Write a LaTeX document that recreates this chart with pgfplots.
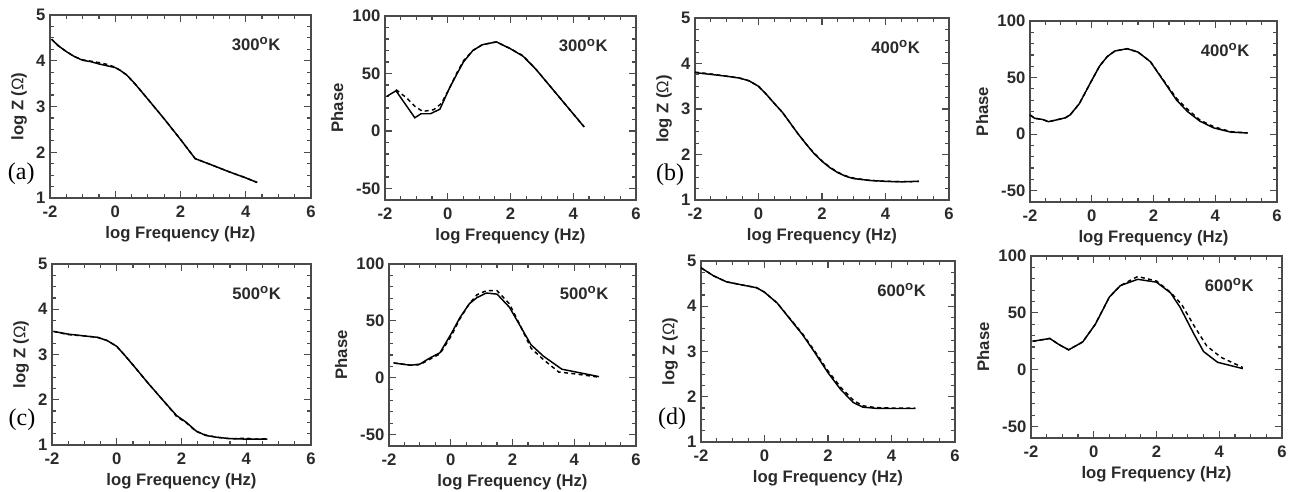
\documentclass[border=0pt]{standalone}
\usepackage{pgfplots}
\pgfplotsset{compat=1.18}
\usepackage{fontspec}
\setmainfont{Liberation Sans}
\newfontfamily\seriffont{Liberation Serif}
\definecolor{axgray}{HTML}{4A4A4A}
\definecolor{txt}{HTML}{2A2A2A}
\pgfplotsset{
  panel/.style={
    scale only axis, anchor=south west, clip=false,
    xmin=-2, xmax=6, xtick={-2,0,2,4,6}, minor x tick num=3,
    axis line style={line width=1.1pt, draw=axgray},
    every tick/.style={line width=0.9pt, axgray},
    major tick length=5.5pt, minor tick length=3pt, tick align=inside,
    xlabel={log Frequency (Hz)},
    label style={font=\bfseries\fontsize{12.5}{14}\selectfont, text=txt},
    tick label style={font=\bfseries\fontsize{12.5}{14}\selectfont, text=txt},
    xticklabel style={yshift=-2.5pt},
    xlabel style={yshift=0.5pt},
    /pgf/number format/assume math mode=true,
  },
  zpanel/.style={panel, ymin=1, ymax=5, ytick={1,2,3,4,5}, minor y tick num=3,
    ylabel={log Z (\textmd{Ω})}},
  ppanel/.style={panel, ymin=-60, ymax=100, ytick={-50,0,50,100}, minor y tick num=4,
    ylabel={Phase}},
  sol/.style={line width=1.1pt, black, solid, no markers},
  dsh/.style={line width=1.1pt, black, no markers, dash pattern=on 3pt off 2.5pt},
}
\newcommand{\temp}[1]{\node[font=\bfseries\fontsize{12.5}{14}\selectfont, text=txt] at (rel axis cs:0.79,0.84) {#1\textsuperscript{\fontsize{10}{10}\selectfont o}K};}
\newcommand{\lett}[2]{\node[font=\seriffont\fontsize{18}{18}\selectfont, text=black] at (rel axis cs:#1) {#2};}
\begin{document}
\begin{tikzpicture}
\useasboundingbox (0,0) rectangle (969.75pt,369pt);
% (a) 300K log Z
\begin{axis}[zpanel, at={(37.5pt,220.5pt)}, width=195.75pt, height=137.25pt]
\addplot[sol] coordinates {(-1.95,4.47)(-1.75,4.33)(-1.5,4.2)(-1.25,4.09)(-1.0,4.01)(-0.75,3.98)(-0.5,3.93)(-0.25,3.89)(0,3.85)(0.15,3.79)(0.35,3.69)(0.6,3.5)(1.0,3.16)(1.5,2.73)(2.0,2.28)(2.45,1.86)(3.0,1.71)(3.5,1.57)(4.0,1.44)(4.35,1.34)};
\addplot[dsh] coordinates {(-1.95,4.47)(-1.75,4.33)(-1.5,4.2)(-1.25,4.09)(-1.0,4.02)(-0.75,3.99)(-0.5,3.96)(-0.25,3.92)(0,3.86)(0.15,3.79)(0.35,3.69)(0.6,3.5)(1.0,3.16)(1.5,2.73)(2.0,2.28)(2.45,1.86)(3.0,1.71)(3.5,1.57)(4.0,1.44)(4.35,1.34)};
\temp{300}
\lett{-0.11,0.13}{(a)}
\end{axis}
% 300K phase
\begin{axis}[ppanel, at={(288.75pt,219pt)}, width=188.25pt, height=138pt]
\addplot[sol] coordinates {(-1.95,30)(-1.65,35)(-1.05,11.5)(-0.85,15)(-0.55,15)(-0.25,19)(0.05,37)(0.3,50)(0.5,60)(0.8,70)(1.1,75)(1.55,77.5)(2.0,71.5)(2.4,65)(2.8,54)(4.35,3.5)};
\addplot[dsh] coordinates {(-1.65,36)(-1.3,28.5)(-1.05,21.5)(-0.8,17)(-0.45,18.5)(-0.2,24)(0.05,37)(0.3,51)(0.5,61)(0.8,70)(1.1,75)(1.55,77.5)(2.0,71.5)(2.4,65.5)(2.8,54)(4.35,3.5)};
\temp{300}
\end{axis}
% (b) 400K log Z
\begin{axis}[zpanel, at={(521.25pt,219pt)}, width=190.5pt, height=136.5pt]
\addplot[sol] coordinates {(-2,3.80)(-1.5,3.76)(-1.0,3.72)(-0.6,3.68)(-0.3,3.62)(0,3.50)(0.25,3.32)(0.5,3.12)(0.75,2.93)(1.0,2.69)(1.25,2.45)(1.5,2.23)(1.75,2.02)(2.0,1.85)(2.25,1.71)(2.5,1.6)(2.75,1.52)(3.0,1.47)(3.5,1.43)(4.0,1.41)(4.5,1.40)(5.05,1.41)};
\addplot[dsh] coordinates {(-2,3.81)(-1.5,3.77)(-1.0,3.72)(-0.6,3.68)(-0.3,3.62)(0,3.50)(0.25,3.32)(0.5,3.12)(0.75,2.93)(1.0,2.69)(1.25,2.45)(1.5,2.23)(1.75,2.03)(2.0,1.86)(2.25,1.72)(2.5,1.61)(2.75,1.53)(3.0,1.48)(3.5,1.43)(4.0,1.41)(4.5,1.40)(5.05,1.41)};
\temp{400}
\lett{-0.098,0.14}{(b)}
\end{axis}
% 400K phase
\begin{axis}[ppanel, at={(772.5pt,217.5pt)}, width=185.25pt, height=135.75pt]
\addplot[sol] coordinates {(-2,17)(-1.85,14)(-1.6,13)(-1.4,11)(-1.15,12.5)(-0.85,14.5)(-0.7,17)(-0.4,27)(-0.05,45)(0.25,60)(0.5,68.5)(0.75,73.5)(1.15,75.5)(1.5,72.5)(1.9,64)(2.3,48)(2.75,30)(3.1,20)(3.5,11.5)(3.95,5.5)(4.5,1.8)(5.05,1)};
\addplot[dsh] coordinates {(-2,17)(-1.85,14)(-1.6,13)(-1.4,11)(-1.15,12.5)(-0.85,14.5)(-0.7,17)(-0.4,27)(-0.05,45)(0.25,60)(0.5,68.5)(0.75,73.5)(1.15,75.5)(1.5,72.5)(1.9,64)(2.3,48.5)(2.75,31.5)(3.1,22)(3.5,12.5)(3.95,6.5)(4.5,2.2)(5.05,1)};
\temp{400}
\end{axis}
% (c) 500K log Z
\begin{axis}[zpanel, at={(39pt,35.25pt)}, width=194.25pt, height=135.75pt]
\addplot[sol] coordinates {(-1.95,3.51)(-1.5,3.45)(-1.0,3.41)(-0.6,3.38)(-0.3,3.31)(0,3.18)(0.25,2.98)(0.5,2.77)(1.0,2.34)(1.5,1.93)(1.85,1.65)(2.15,1.5)(2.45,1.31)(2.75,1.21)(3.1,1.17)(3.5,1.14)(4.0,1.13)(4.65,1.13)};
\addplot[dsh] coordinates {(-1.95,3.51)(-1.5,3.44)(-1.0,3.41)(-0.6,3.38)(-0.3,3.31)(0,3.18)(0.25,2.98)(0.5,2.77)(1.0,2.34)(1.5,1.93)(1.85,1.63)(2.15,1.49)(2.45,1.3)(2.75,1.22)(3.1,1.17)(3.5,1.14)(4.0,1.15)(4.3,1.13)(4.65,1.14)};
\temp{500}
\lett{-0.116,0.14}{(c)}
\end{axis}
% 500K phase
\begin{axis}[ppanel, at={(291.75pt,34.5pt)}, width=185.25pt, height=136.5pt]
\addplot[sol] coordinates {(-1.85,13)(-1.3,11)(-1.0,12)(-0.7,17)(-0.35,22)(0,38)(0.3,53)(0.6,65)(0.85,70.5)(1.15,74.5)(1.5,73.5)(1.9,62)(2.25,45.5)(2.6,29)(3.0,19)(3.6,7.5)(4.8,1)};
\addplot[dsh] coordinates {(-1.85,13)(-1.3,11)(-1.0,11.5)(-0.7,16)(-0.35,21)(0,36)(0.3,52)(0.6,65)(0.85,73)(1.15,76.5)(1.5,76.5)(1.9,65)(2.25,46)(2.6,26)(3.0,16)(3.5,5)(4.0,3.5)(4.8,0.5)};
\temp{500}
\end{axis}
% (d) 600K log Z
\begin{axis}[zpanel, at={(525.75pt,37.5pt)}, width=190.5pt, height=135.75pt]
\addplot[sol] coordinates {(-2,4.85)(-1.6,4.67)(-1.2,4.54)(-0.7,4.47)(-0.25,4.41)(0,4.31)(0.4,4.07)(0.8,3.72)(1.2,3.37)(1.6,2.96)(2.0,2.53)(2.4,2.16)(2.8,1.87)(3.1,1.77)(3.5,1.745)(4.0,1.74)(4.75,1.74)};
\addplot[dsh] coordinates {(-2,4.85)(-1.6,4.67)(-1.2,4.54)(-0.7,4.47)(-0.25,4.41)(0,4.31)(0.4,4.07)(0.8,3.73)(1.2,3.39)(1.6,2.99)(2.0,2.57)(2.4,2.21)(2.8,1.92)(3.1,1.8)(3.5,1.76)(4.0,1.75)(4.75,1.75)};
\temp{600}
\lett{-0.114,0.13}{(d)}
\end{axis}
% 600K phase
\begin{axis}[ppanel, at={(773.25pt,40.5pt)}, width=188.25pt, height=136.5pt]
\addplot[sol] coordinates {(-1.95,25)(-1.4,27.5)(-1.1,22)(-0.8,17.5)(-0.35,24.5)(0.05,40)(0.5,64)(0.85,74)(1.4,79.5)(2.0,77)(2.45,67.5)(2.75,55)(3.2,31)(3.5,16)(3.95,6.5)(4.75,1)};
\addplot[dsh] coordinates {(-1.95,25)(-1.4,27.5)(-1.1,22)(-0.8,17.5)(-0.35,24.5)(0.05,40)(0.5,64)(0.85,74)(1.4,82)(2.0,78)(2.45,68)(2.8,57.5)(3.2,38.5)(3.6,21)(4.05,11)(4.75,2)};
\temp{600}
\end{axis}
\end{tikzpicture}
\end{document}
